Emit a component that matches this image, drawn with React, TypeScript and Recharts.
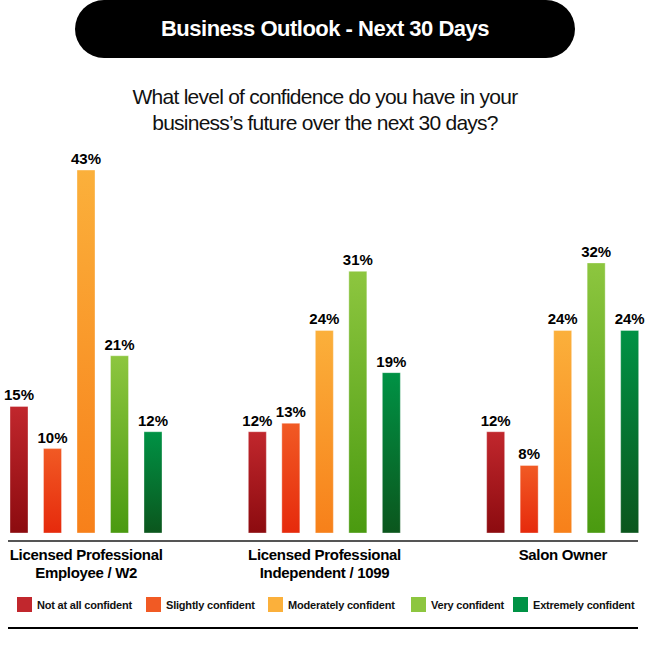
import React from "react";
import { Bar, BarChart, LabelList, XAxis, YAxis } from "recharts";

const categoryLines = [
  ["Licensed Professional", "Employee / W2"],
  ["Licensed Professional", "Independent / 1099"],
  ["Salon Owner"],
];
const categories = categoryLines.map((lines) => lines.join(" "));

const notAtAll = [15, 12, 12];
const slightly = [10, 13, 8];
const moderately = [43, 24, 24];
const very = [21, 31, 32];
const extremely = [12, 19, 24];

const series = [
  { key: "notAtAll", name: "Not at all confident", values: notAtAll, top: "#c1272d", bottom: "#8c0b0f" },
  { key: "slightly", name: "Slightly confident", values: slightly, top: "#f15a24", bottom: "#e62a0c" },
  { key: "moderately", name: "Moderately confident", values: moderately, top: "#fbb03b", bottom: "#f7801a" },
  { key: "very", name: "Very confident", values: very, top: "#8dc63f", bottom: "#4a9a10" },
  { key: "extremely", name: "Extremely confident", values: extremely, top: "#009245", bottom: "#0b561d" },
];

// left edge of each legend item
const legendLeft = [17, 146, 268, 411, 513];

const chartData = categories.map((name, i) => {
  const row: Record<string, string | number> = { name };
  series.forEach((s) => {
    row[s.key] = s.values[i];
  });
  return row;
});

const FONT = "'Liberation Sans', Arial, sans-serif";

function CategoryTick(props: any) {
  const { x, y, payload } = props;
  const lines = categoryLines[payload.index] || [];
  return (
    <g>
      {lines.map((line, i) => (
        <text
          key={i}
          x={x}
          y={y + 19 + i * 18}
          textAnchor="middle"
          fill="#000"
          fontFamily={FONT}
          fontWeight="bold"
          fontSize={15}
          letterSpacing={-0.3}
        >
          {line}
        </text>
      ))}
    </g>
  );
}

export default function App() {
  return (
    <div
      style={{
        position: "absolute",
        left: 0,
        top: 0,
        width: 650,
        height: 648,
        background: "#fff",
        fontFamily: FONT,
      }}
    >
      <div
        style={{
          position: "absolute",
          left: 75,
          top: 0,
          width: 500,
          height: 58,
          borderRadius: 29,
          background: "#000",
          color: "#fff",
          display: "flex",
          alignItems: "center",
          justifyContent: "center",
          fontWeight: "bold",
          fontSize: 22,
          letterSpacing: -0.5,
        }}
      >
        Business Outlook - Next 30 Days
      </div>
      <div
        style={{
          position: "absolute",
          left: 0,
          top: 84,
          width: 650,
          textAlign: "center",
          fontSize: 21,
          lineHeight: "26px",
          letterSpacing: -0.75,
          color: "#111",
        }}
      >
        What level of confidence do you have in your
        <br />
        business’s future over the next 30 days?
      </div>

      <div style={{ position: "absolute", left: 0, top: 0 }}>
        <BarChart
          width={650}
          height={648}
          data={chartData}
          margin={{ top: 111, right: -32, bottom: 0, left: -33 }}
          barSize={18}
          barGap={15.5}
        >
          <defs>
            {series.map((s) => (
              <linearGradient key={s.key} id={`grad-${s.key}`} x1="0" y1="0" x2="0" y2="1">
                <stop offset="0%" stopColor={s.top} />
                <stop offset="100%" stopColor={s.bottom} />
              </linearGradient>
            ))}
          </defs>
          <XAxis
            dataKey="name"
            height={115}
            axisLine={false}
            tickLine={false}
            interval={0}
            tick={<CategoryTick />}
          />
          <YAxis hide domain={[0, 50]} />
          {series.map((s) => (
            <Bar
              key={s.key}
              dataKey={s.key}
              name={s.name}
              fill={`url(#grad-${s.key})`}
              stroke="rgba(255,255,255,0.35)"
              strokeWidth={1}
              isAnimationActive={false}
            >
              <LabelList
                dataKey={s.key}
                position="top"
                offset={6}
                formatter={(v: any) => `${v}%`}
                fill="#000"
                fontFamily={FONT}
                fontWeight="bold"
                fontSize={15}
              />
            </Bar>
          ))}
        </BarChart>
      </div>

      <div
        style={{
          position: "absolute",
          left: 8,
          top: 540,
          width: 630,
          height: 2,
          background: "#555",
        }}
      />

      {series.map((s, i) => (
        <div
          key={s.key}
          style={{
            position: "absolute",
            left: legendLeft[i],
            top: 597,
            display: "flex",
            alignItems: "center",
            fontSize: 11,
            fontWeight: "bold",
            letterSpacing: -0.2,
            color: "#111",
            whiteSpace: "nowrap",
          }}
        >
          <div style={{ width: 15, height: 15, background: s.top, marginRight: 5 }} />
          <span>{s.name}</span>
        </div>
      ))}

      <div
        style={{
          position: "absolute",
          left: 8,
          top: 627,
          width: 630,
          height: 2,
          background: "#000",
        }}
      />
    </div>
  );
}
